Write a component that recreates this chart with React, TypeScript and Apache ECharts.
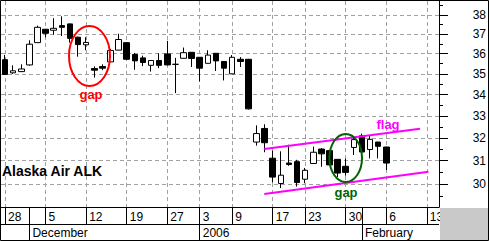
import React, { useEffect, useRef } from 'react';
import * as echarts from 'echarts';

// Trading days shown on the axis (includes empty days to the right)
const dates = [
  '2005-11-28', '2005-11-29', '2005-11-30', '2005-12-01', '2005-12-02',
  '2005-12-05', '2005-12-06', '2005-12-07', '2005-12-08', '2005-12-09',
  '2005-12-12', '2005-12-13', '2005-12-14', '2005-12-15', '2005-12-16',
  '2005-12-19', '2005-12-20', '2005-12-21', '2005-12-22', '2005-12-23',
  '2005-12-27', '2005-12-28', '2005-12-29', '2005-12-30',
  '2006-01-03', '2006-01-04', '2006-01-05', '2006-01-06',
  '2006-01-09', '2006-01-10', '2006-01-11', '2006-01-12', '2006-01-13',
  '2006-01-17', '2006-01-18', '2006-01-19', '2006-01-20',
  '2006-01-23', '2006-01-24', '2006-01-25', '2006-01-26', '2006-01-27',
  '2006-01-30', '2006-01-31', '2006-02-01', '2006-02-02', '2006-02-03',
  '2006-02-06', '2006-02-07', '2006-02-08', '2006-02-09', '2006-02-10',
  '2006-02-13', '2006-02-14',
];

const opens = [
  35.70, 35.05, 35.11, 35.44, 36.56, 37.25, 37.20, 37.44, 37.53, 36.84,
  36.45, 35.26, 35.36, 35.59, 36.18, 36.56, 35.96, 35.79, 35.42, 35.66,
  35.99, 35.47, 35.77, 36.07, 35.82, 35.52, 36.02, 35.61, 35.00, 35.72,
  35.72, 31.82, 32.43, 31.11, 30.03, 30.90, 30.96, 30.21, 30.88, 31.51,
  31.44, 31.06, 30.76, 31.58, 32.10, 31.49, 31.82, 31.60,
];
const closes = [
  34.97, 35.15, 35.24, 36.48, 37.35, 37.04, 37.30, 37.35, 36.78, 36.46,
  36.57, 35.18, 35.28, 36.16, 36.72, 35.72, 35.64, 35.56, 35.66, 35.42,
  35.44, 35.47, 36.05, 35.76, 35.28, 35.93, 35.64, 35.28, 35.82, 35.61,
  33.33, 32.20, 31.79, 30.30, 30.38, 30.84, 30.07, 30.59, 31.37, 31.30,
  30.82, 30.47, 30.50, 31.93, 31.38, 31.94, 31.63, 30.90,
];
const lows = [
  34.95, 35.00, 35.10, 35.40, 36.55, 36.83, 36.97, 36.90, 36.56, 35.85,
  36.17, 34.82, 35.18, 35.59, 36.18, 35.70, 35.20, 35.38, 35.11, 35.28,
  35.42, 34.07, 35.76, 35.34, 34.63, 35.51, 35.14, 34.68, 34.99, 35.34,
  33.30, 31.66, 31.37, 30.07, 29.84, 30.78, 29.90, 30.04, 30.87, 30.74,
  30.80, 30.30, 30.36, 31.25, 31.37, 31.10, 31.10, 30.60,
];
const highs = [
  35.94, 35.42, 35.47, 36.68, 37.44, 37.26, 37.83, 37.93, 37.55, 36.87,
  36.84, 35.37, 35.47, 36.24, 37.02, 36.58, 36.04, 35.90, 35.68, 36.02,
  36.65, 35.79, 36.31, 36.08, 35.83, 36.17, 36.03, 35.62, 35.93, 35.83,
  35.74, 32.57, 32.62, 31.44, 31.41, 31.70, 31.04, 30.69, 31.62, 31.55,
  31.46, 31.07, 31.10, 32.07, 32.20, 32.09, 31.83, 31.61,
];

const weekLabelDates = [
  '2005-11-28', '2005-12-05', '2005-12-12', '2005-12-19', '2005-12-27',
  '2006-01-03', '2006-01-09', '2006-01-17', '2006-01-23', '2006-01-30',
  '2006-02-06', '2006-02-13',
];
const monthStartDates = ['2005-12-01', '2006-01-03', '2006-02-01'];
const monthLabels = ['December', '2006', 'February'];

const priceTicks = [30, 31, 32, 33, 34, 35, 36, 37, 38];
const minorPriceTicks = [29.5, 30.5, 31.5, 32.5, 33.5, 34.5, 35.5, 36.5, 37.5, 38.5];
const priceMin = 29.06;
const priceMax = 38.75;

// flag trend lines: [trading-day position, price]
const flagUpper = [[31.96, 31.51], [51.16, 32.42]];
const flagLower = [[31.96, 29.59], [52.2, 30.53]];

const title = 'Alaska Air ALK';

export default function App() {
  const ref = useRef<HTMLDivElement>(null);

  useEffect(() => {
    const chart = echarts.init(ref.current as HTMLDivElement, null, { renderer: 'svg' });
    const ln = Math.log;
    const idxOf = (d: string) => dates.indexOf(d);
    const weekIdx = weekLabelDates.map(idxOf);
    const monthIdx = monthStartDates.map(idxOf);
    const sepIdx = Array.from(new Set([...weekIdx, ...monthIdx])).sort((a, b) => a - b);
    const candleData = opens.map((o, i) => [ln(o), ln(closes[i]), ln(lows[i]), ln(highs[i])]);
    const xMin = -0.5;
    const xMax = dates.length - 0.5;
    const font = '"Liberation Sans", Arial, sans-serif';
    const black = { color: '#000', width: 1 };
    const dash = { color: '#a0a0a0', width: 1, type: [4, 3] as any };

    const valueX = (extra: any) => ({
      type: 'value',
      min: xMin,
      max: xMax,
      position: 'bottom',
      gridIndex: 0,
      ...extra,
    });

    chart.setOption({
      animation: false,
      backgroundColor: '#fff',
      grid: { left: 1, top: 1, right: 50, bottom: 34, outerBoundsMode: 'none', containLabel: false },
      xAxis: [
        { type: 'category', data: dates, show: false, boundaryGap: true, gridIndex: 0 },
        valueX({
          axisLine: { show: true, onZero: false, lineStyle: black },
          axisTick: { show: true, customValues: sepIdx, length: 17, inside: false, lineStyle: black },
          axisLabel: {
            show: true,
            customValues: weekIdx,
            formatter: (v: number) => String(Number(dates[Math.round(v)].slice(8))),
            align: 'left',
            verticalAlign: 'top',
            padding: [0, 0, 0, 3],
            margin: 4,
            lineHeight: 12,
            fontFamily: font,
            fontSize: 12,
            color: '#000',
          },
          splitLine: { show: false },
        }),
        valueX({
          axisLine: { show: false, onZero: false },
          axisTick: { show: true, customValues: monthIdx, length: 33, inside: false, lineStyle: black },
          axisLabel: {
            show: true,
            customValues: monthIdx,
            formatter: (v: number) => monthLabels[monthIdx.indexOf(Math.round(v))],
            align: 'left',
            verticalAlign: 'top',
            padding: [0, 0, 0, 3],
            margin: 20,
            lineHeight: 12,
            fontFamily: font,
            fontSize: 12,
            color: '#000',
          },
          splitLine: { show: false },
        }),
        valueX({
          axisLine: { show: false, onZero: false },
          axisTick: { show: false, customValues: weekIdx },
          axisLabel: { show: false },
          splitLine: { show: true, lineStyle: dash },
        }),
      ],
      yAxis: [
        {
          type: 'value',
          position: 'right',
          min: ln(priceMin),
          max: ln(priceMax),
          axisLine: { show: true, onZero: false, lineStyle: black },
          axisTick: { show: true, customValues: priceTicks.map(ln), length: 9, inside: false, lineStyle: black },
          axisLabel: {
            show: true,
            customValues: priceTicks.map(ln),
            formatter: (v: number) => String(Math.round(Math.exp(v))),
            align: 'right',
            margin: 47,
            fontFamily: font,
            fontSize: 12,
            color: '#000',
          },
          splitLine: { show: true, lineStyle: dash },
        },
        {
          type: 'value',
          position: 'right',
          min: ln(priceMin),
          max: ln(priceMax),
          axisLine: { show: false, onZero: false },
          axisTick: { show: true, customValues: minorPriceTicks.map(ln), length: 4, inside: false, lineStyle: black },
          axisLabel: { show: false },
          splitLine: { show: false },
        },
      ],
      series: [
        {
          type: 'candlestick',
          xAxisIndex: 0,
          yAxisIndex: 0,
          data: candleData,
          barWidth: 6,
          silent: true,
          itemStyle: {
            color: '#fff',
            color0: '#000',
            borderColor: '#000',
            borderColor0: '#000',
            borderWidth: 1,
          },
        },
        {
          type: 'line',
          xAxisIndex: 3,
          yAxisIndex: 0,
          data: flagUpper.map(([x, y]) => [x, ln(y)]),
          symbol: 'none',
          silent: true,
          lineStyle: { color: '#ff00ff', width: 2 },
          z: 5,
        },
        {
          type: 'line',
          xAxisIndex: 3,
          yAxisIndex: 0,
          data: flagLower.map(([x, y]) => [x, ln(y)]),
          symbol: 'none',
          silent: true,
          lineStyle: { color: '#ff00ff', width: 2 },
          z: 5,
        },
      ],
      graphic: [
        { type: 'rect', z: 100, shape: { x: 440, y: 208, width: 48, height: 32 }, style: { fill: '#c9c9c9' } },
        { type: 'line', z: 100, shape: { x1: 1, y1: 224.5, x2: 439, y2: 224.5 }, style: { stroke: '#000', lineWidth: 1 } },
        { type: 'rect', z: 100, shape: { x: 0.5, y: 0.5, width: 488, height: 240 }, style: { fill: 'none', stroke: '#000', lineWidth: 1 } },
        { type: 'ellipse', z: 100, shape: { cx: 89.5, cy: 56, rx: 20.5, ry: 30 }, style: { fill: 'none', stroke: '#ff0000', lineWidth: 2 } },
        { type: 'ellipse', z: 100, shape: { cx: 345.7, cy: 158, rx: 16.3, ry: 24 }, style: { fill: 'none', stroke: '#006400', lineWidth: 2 } },
        {
          type: 'text', z: 100, x: 2, y: 171,
          style: { text: title, fill: '#000', font: 'bold 14px "Liberation Sans", Arial, sans-serif', align: 'left', verticalAlign: 'middle' },
        },
        {
          type: 'text', z: 100, x: 91, y: 94,
          style: { text: 'gap', fill: '#ff0000', font: 'bold 13px "Liberation Sans", Arial, sans-serif', align: 'center', verticalAlign: 'middle' },
        },
        {
          type: 'text', z: 100, x: 346, y: 192,
          style: { text: 'gap', fill: '#006400', font: 'bold 13px "Liberation Sans", Arial, sans-serif', align: 'center', verticalAlign: 'middle' },
        },
        {
          type: 'text', z: 100, x: 388, y: 124,
          style: { text: 'flag', fill: '#ff00ff', font: 'bold 13px "Liberation Sans", Arial, sans-serif', align: 'center', verticalAlign: 'middle' },
        },
      ],
    });

    return () => {
      chart.dispose();
    };
  }, []);

  return (
    <div
      ref={ref}
      style={{ position: 'fixed', left: 0, top: 0, width: 489, height: 241, background: '#fff' }}
    />
  );
}
